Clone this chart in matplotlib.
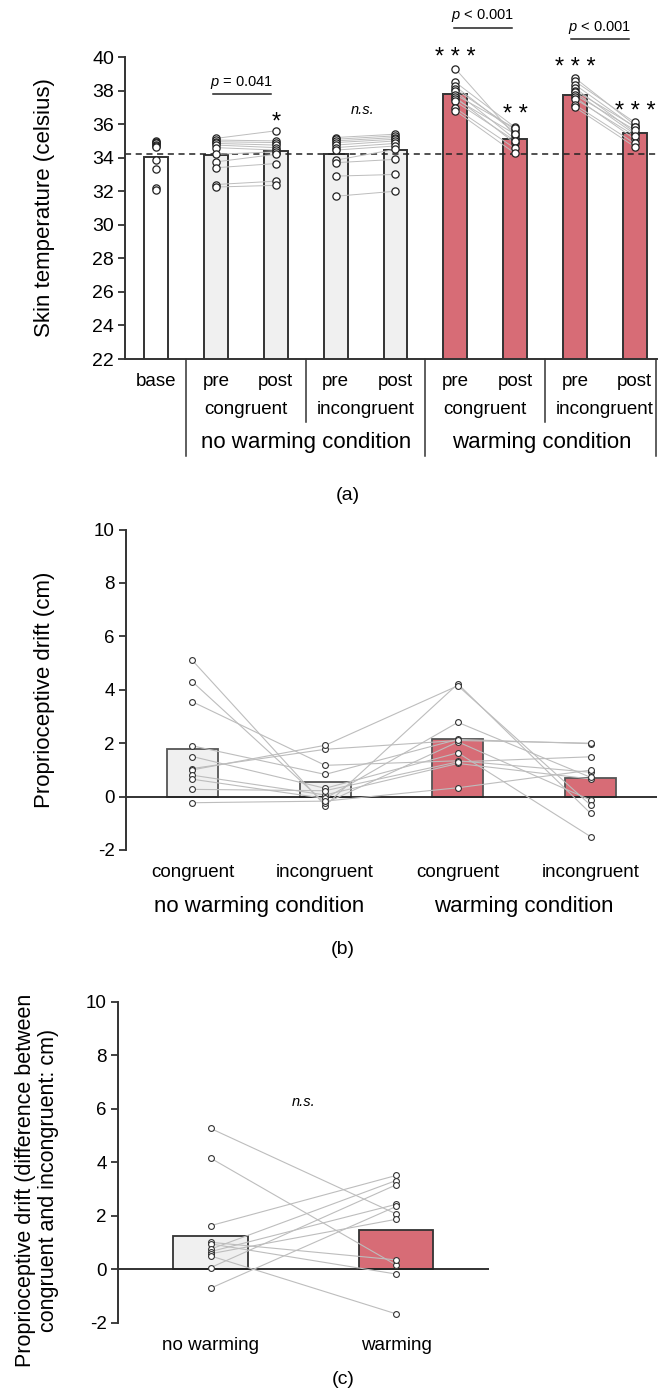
import numpy as np
import matplotlib.pyplot as plt

plt.rcParams['font.family'] = ['Liberation Sans', 'DejaVu Sans']
plt.rcParams['mathtext.fontset'] = 'custom'
plt.rcParams['mathtext.it'] = 'Liberation Sans:italic'
plt.rcParams['mathtext.rm'] = 'Liberation Sans'
plt.rcParams['axes.unicode_minus'] = False

W, H = 660, 1392

# ---- panel (a): skin temperature
a_labels = ['base', 'pre', 'post', 'pre', 'post', 'pre', 'post', 'pre', 'post']
a_sub = ['congruent', 'incongruent', 'congruent', 'incongruent']
a_groups = ['no warming condition', 'warming condition']
a_means = [34.05, 34.15, 34.42, 34.23, 34.45, 37.78, 35.12, 37.74, 35.48]
a_baseline = 34.2

base = [35.0, 34.95, 34.9, 34.85, 34.75, 34.7, 34.65, 33.85, 33.3, 32.2, 32.05]
nw_pre_con = [35.15, 35.05, 34.95, 34.85, 34.75, 34.6, 34.2, 33.75, 33.4, 32.4, 32.25]
nw_post_con = [35.6, 35.0, 34.9, 34.75, 34.6, 34.45, 34.35, 34.2, 33.65, 32.6, 32.35]
nw_pre_inc = [35.2, 35.1, 35.0, 34.9, 34.75, 34.6, 34.45, 33.85, 33.7, 32.9, 31.7]
nw_post_inc = [35.4, 35.3, 35.2, 35.1, 35.0, 34.85, 34.7, 34.5, 33.9, 33.0, 32.0]
w_pre_con = [39.3, 38.5, 38.25, 38.1, 37.95, 37.75, 37.6, 37.5, 37.35, 36.95, 36.8]
w_post_con = [35.3, 35.8, 35.5, 35.65, 35.1, 35.75, 34.85, 35.4, 35.0, 34.55, 34.25]
w_pre_inc = [38.75, 38.55, 38.35, 38.15, 38.0, 37.9, 37.75, 37.6, 37.5, 37.15, 37.0]
w_post_inc = [35.95, 36.1, 35.8, 35.5, 35.85, 35.4, 35.65, 35.1, 35.3, 34.85, 34.65]
a_points = [base, nw_pre_con, nw_post_con, nw_pre_inc, nw_post_inc,
            w_pre_con, w_post_con, w_pre_inc, w_post_inc]
a_stars = {2: '*', 5: '* * *', 6: '* *', 7: '* * *', 8: '* * *'}
a_star_y = {2: 36.45, 5: 40.3, 6: 36.9, 7: 39.7, 8: 37.1}

# ---- panel (b): proprioceptive drift, one row per participant
b_cats = ['congruent', 'incongruent', 'congruent', 'incongruent']
b_groups = ['no warming condition', 'warming condition']
b_means = [1.78, 0.53, 2.14, 0.68]
b_drift = [
    [5.1, -0.34, 4.22, -0.63],
    [4.3, -0.25, 2.05, -0.13],
    [3.55, 1.17, 1.34, 0.91],
    [1.9, 0.83, 2.14, 1.98],
    [1.5, 0.31, 1.64, -1.5],
    [1.05, 1.77, 2.1, 2.0],
    [1.0, 1.92, 4.15, -0.32],
    [0.8, 0.06, 1.24, 0.66],
    [0.65, -0.07, 2.78, 0.72],
    [0.27, 0.22, 1.3, 1.49],
    [-0.23, -0.17, 0.33, 0.99],
]

# ---- panel (c): difference congruent - incongruent
c_cats = ['no warming', 'warming']
c_means = [1.26, 1.45]
c_nowarm = [5.27, 4.16, 1.63, 1.01, 0.95, 0.75, 0.66, 0.58, 0.5, 0.06, -0.71]
c_warm = [2.07, 0.16, 3.51, 0.35, -0.18, 3.32, 2.43, 1.87, -1.67, 3.16, 2.35]

grey_fill = '#f0f0f0'
red_fill = '#d76c76'
pair_col = '#bdbdbd'

fig = plt.figure(figsize=(W / 100, H / 100), dpi=100)


def style_y(ax, size):
    for s in ['top', 'right', 'bottom']:
        ax.spines[s].set_visible(False)
    ax.spines['left'].set_linewidth(1.4)
    ax.spines['left'].set_color('#333333')
    ax.tick_params(axis='y', direction='out', length=5, width=1.3,
                   color='#333333', labelsize=size, pad=3)
    ax.tick_params(axis='x', bottom=False, labelbottom=False)


# ================= (a)
ax = fig.add_axes([125 / W, 1 - 359 / H, 532 / W, 302 / H])
xa = np.arange(len(a_labels))
faces = ['white'] + [grey_fill] * 4 + [red_fill] * 4
ax.bar(xa, a_means, width=0.4, color=faces, edgecolor='#333333', linewidth=1.4, zorder=1)
ax.axhline(a_baseline, color='#222222', lw=1.1, ls=(0, (4, 3)), zorder=2)
for i0 in [1, 3, 5, 7]:
    for v0, v1 in zip(a_points[i0], a_points[i0 + 1]):
        ax.plot([i0, i0 + 1], [v0, v1], color=pair_col, lw=0.7, zorder=3)
for i, pts in enumerate(a_points):
    ax.plot([i] * len(pts), pts, 'o', ms=5.2, mfc='white', mec='#222222', mew=0.9, zorder=4)
ax.set_xlim(-0.52, 8.37)
ax.set_ylim(22, 40)
ax.set_yticks(np.arange(22, 41, 2))
style_y(ax, 14)
ax.spines['bottom'].set_visible(True)
ax.spines['bottom'].set_linewidth(1.4)
ax.spines['bottom'].set_color('#333333')

for i, s in a_stars.items():
    ax.text(i, a_star_y[i] - 0.35, s, ha='center', va='center', fontsize=17)
ax.text(3.45, 36.85, 'n.s.', ha='center', va='center', fontsize=10.5, style='italic')
for x0, x1, yl, yt, txt in [(0.95, 1.92, 37.8, 38.5, r'$p$ = 0.041'),
                            (4.97, 5.95, 41.7, 42.45, r'$p$ < 0.001'),
                            (6.93, 7.9, 41.07, 41.75, r'$p$ < 0.001')]:
    ax.plot([x0, x1], [yl, yl], color='#222222', lw=1.1, clip_on=False)
    ax.text((x0 + x1) / 2, yt, txt, ha='center', va='center', fontsize=10.5)

for i, lab in enumerate(a_labels):
    ax.text(i, 20.63, lab, ha='center', va='center', fontsize=13.5)
for k, lab in enumerate(a_sub):
    ax.text(1.5 + 2 * k, 19.0, lab, ha='center', va='center', fontsize=13.5)
ax.text(2.5, 17.0, a_groups[0], ha='center', va='center', fontsize=16)
ax.text(6.45, 17.0, a_groups[1], ha='center', va='center', fontsize=16)
for xs, yb in [(0.5, 16.2), (2.5, 18.25), (4.5, 16.2), (6.5, 18.25), (8.35, 16.2)]:
    ax.plot([xs, xs], [22, yb], color='#333333', lw=1.1, clip_on=False)
fig.text(45 / W, 1 - 208 / H, 'Skin temperature (celsius)', rotation=90,
         ha='center', va='center', fontsize=16)
fig.text(348 / W, 1 - 495 / H, '(a)', ha='center', va='center', fontsize=14)

# ================= (b)
axb = fig.add_axes([126 / W, 1 - 850 / H, 531 / W, 320.5 / H])
xb = np.arange(len(b_cats))
axb.bar(xb, b_means, width=0.385, color=[grey_fill, grey_fill, red_fill, red_fill],
        edgecolor='#555555', linewidth=1.3, zorder=1)
axb.axhline(0, color='#222222', lw=1.3, zorder=2)
for row in b_drift:
    axb.plot(xb, row, color=pair_col, lw=0.8, zorder=3)
for j in range(len(b_cats)):
    vals = [row[j] for row in b_drift]
    axb.plot([j] * len(vals), vals, 'o', ms=4.2, mfc='white', mec='#333333', mew=0.8, zorder=4)
axb.set_xlim(-0.5, 3.5)
axb.set_ylim(-2, 10)
axb.set_yticks(np.arange(-2, 11, 2))
style_y(axb, 13.5)
for j, lab in enumerate(b_cats):
    axb.text(j, -2.83, lab, ha='center', va='center', fontsize=13.5, clip_on=False)
axb.text(0.5, -4.1, b_groups[0], ha='center', va='center', fontsize=16)
axb.text(2.5, -4.1, b_groups[1], ha='center', va='center', fontsize=16)
fig.text(45 / W, 1 - 690 / H, 'Proprioceptive drift (cm)', rotation=90,
         ha='center', va='center', fontsize=16)
fig.text(343 / W, 1 - 950 / H, '(b)', ha='center', va='center', fontsize=14)

# ================= (c)
axc = fig.add_axes([117.7 / W, 1 - 1322.7 / H, 371.3 / W, 320.7 / H])
xc = np.arange(len(c_cats))
axc.bar(xc, c_means, width=0.4, color=[grey_fill, red_fill],
        edgecolor='#333333', linewidth=1.3, zorder=1)
axc.axhline(0, color='#222222', lw=1.3, zorder=2)
for v0, v1 in zip(c_nowarm, c_warm):
    axc.plot([0, 1], [v0, v1], color=pair_col, lw=0.8, zorder=3)
axc.plot([0] * len(c_nowarm), c_nowarm, 'o', ms=4.2, mfc='white', mec='#333333', mew=0.8, zorder=4)
axc.plot([1] * len(c_warm), c_warm, 'o', ms=4.2, mfc='white', mec='#333333', mew=0.8, zorder=4)
axc.set_xlim(-0.5, 1.5)
axc.set_ylim(-2, 10)
axc.set_yticks(np.arange(-2, 11, 2))
style_y(axc, 13.5)
axc.text(0.5, 6.27, 'n.s.', ha='center', va='center', fontsize=10.5, style='italic')
for j, lab in enumerate(c_cats):
    axc.text(j, -2.87, lab, ha='center', va='center', fontsize=13.5)
fig.text(37 / W, 1 - 1180 / H,
         'Proprioceptive drift (difference between\ncongruent and incongruent: cm)',
         rotation=90, ha='center', va='center', multialignment='center', fontsize=15.5,
         linespacing=1.1)
fig.text(343 / W, 1 - 1380 / H, '(c)', ha='center', va='center', fontsize=14)

fig.savefig('out.png', dpi=100)
